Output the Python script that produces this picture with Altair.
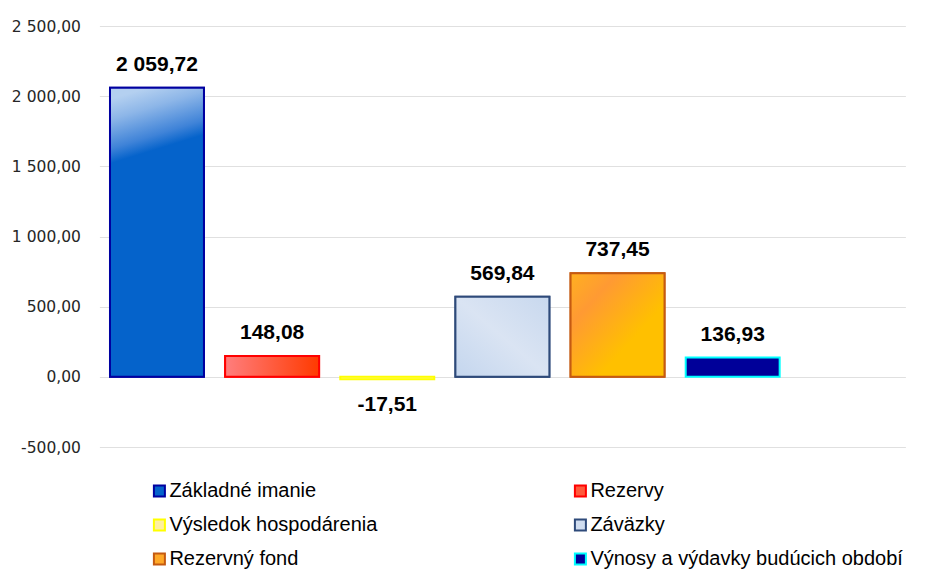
import altair as alt
import pandas as pd

categories = [
    "Základné imanie",
    "Rezervy",
    "Výsledok hospodárenia",
    "Záväzky",
    "Rezervný fond",
    "Výnosy a výdavky budúcich období",
]
values = [2059.72, 148.08, -17.51, 569.84, 737.45, 136.93]
y_ticks = [-500, 0, 500, 1000, 1500, 2000, 2500]

fill_colors = ["#0563CB", "#FF5A3C", "#FFF0A0", "#D0DDF0", "#FFA928", "#000099"]
stroke_colors = ["#0000A0", "#FF0000", "#FFFF00", "#2E4A7A", "#C55A11", "#00FFFF"]

df = pd.DataFrame({"cat": categories, "value": values})

x_enc = alt.X(
    "cat:N",
    sort=None,
    scale=alt.Scale(domain=categories + [" "], paddingInner=0.184, paddingOuter=0.092),
    axis=None,
)
y_enc = alt.Y(
    "value:Q",
    scale=alt.Scale(domain=[-500, 2500], nice=False, zero=True),
    axis=alt.Axis(
        values=y_ticks,
        format=",.2f",
        title=None,
        domain=False,
        ticks=False,
        grid=True,
        gridColor="#E0E0E0",
        gridWidth=1,
        labelFont="DejaVu Sans",
        labelFontSize=15.5,
        labelColor="#262626",
        labelPadding=19,
    ),
)

legend = alt.Legend(
    title=None,
    orient="none",
    direction="horizontal",
    legendX=50,
    legendY=455,
    columns=2,
    columnPadding=193,
    rowPadding=14,
    symbolType="square",
    symbolSize=121,
    symbolStrokeWidth=2,
    labelFont="Liberation Sans",
    labelFontSize=20,
    labelColor="black",
    labelOffset=0,
    labelLimit=400,
    padding=0,
)

base = alt.Chart(df)

bars = base.mark_bar(strokeWidth=2).encode(
    x=x_enc,
    y=y_enc,
    fill=alt.Fill("cat:N", sort=None, scale=alt.Scale(domain=categories, range=fill_colors), legend=legend),
    stroke=alt.Stroke("cat:N", sort=None, scale=alt.Scale(domain=categories, range=stroke_colors), legend=legend),
)

def lg(stops, x1=0, y1=0, x2=0, y2=1):
    return alt.LinearGradient(
        gradient="linear",
        stops=[alt.GradientStop(color=c, offset=o) for o, c in stops],
        x1=x1, y1=y1, x2=x2, y2=y2,
    )

gradients = {
    0: lg([(0, "#B4D0F0"), (0.07, "#8DB6E8"), (0.17, "#3F83D8"), (0.22, "#0563CB"), (1, "#0563CB")], x1=0.4, y1=0, x2=0.5, y2=1),
    1: lg([(0, "#FF7E7E"), (1, "#FF3A00")], x1=0, y1=0.5, x2=1, y2=0.5),
    3: lg([(0, "#C4D6EE"), (0.5, "#DAE4F3"), (1, "#C8D8EE")], x1=0, y1=1, x2=1, y2=0),
    4: lg([(0, "#FFB020"), (0.25, "#FF9A33"), (0.65, "#FFC000"), (1, "#FFC000")], x1=0, y1=0, x2=1, y2=1),
}

layers = [bars]
for i, g in gradients.items():
    layers.append(
        base.mark_bar(fill=g, stroke=stroke_colors[i], strokeWidth=2)
        .encode(x=x_enc, y=alt.Y("value:Q"))
        .transform_filter(alt.datum.cat == categories[i])
    )

pos_labels = (
    base.mark_text(font="Liberation Sans", fontWeight="bold", fontSize=21, baseline="alphabetic", dy=-17, color="black")
    .encode(x=x_enc, y=alt.Y("value:Q"), text=alt.Text("value:Q", format=",.2f"))
    .transform_filter(alt.datum.value >= 0)
)
neg_labels = (
    base.mark_text(font="Liberation Sans", fontWeight="bold", fontSize=21, baseline="alphabetic", dy=32, color="black")
    .encode(x=x_enc, y=alt.Y("value:Q"), text=alt.Text("value:Q", format=",.2f"))
    .transform_filter(alt.datum.value < 0)
)
layers += [pos_labels, neg_labels]

chart = (
    alt.layer(*layers)
    .properties(
        width=806,
        height=421,
        autosize="none",
        padding={"left": 91.4, "top": 18, "right": 8.6, "bottom": 123},
    )
    .configure(
        locale={"number": {"decimal": ",", "thousands": " ", "grouping": [3], "currency": ["", " €"], "minus": "-"}},
        view=alt.ViewConfig(stroke="transparent", strokeWidth=0),
    )
)

chart.save("out.html", embed_options={"renderer": "svg", "actions": False})
